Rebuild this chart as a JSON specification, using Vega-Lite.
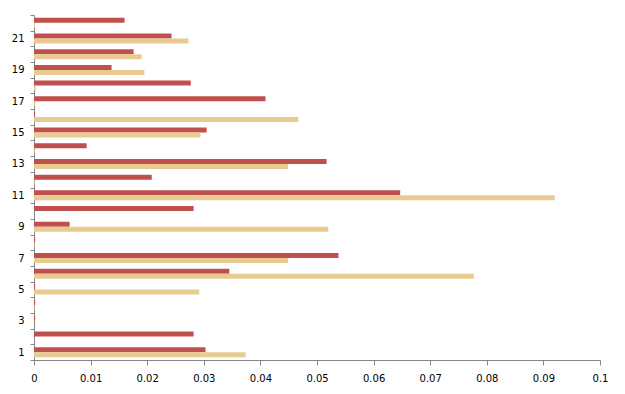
{
  "$schema": "https://vega.github.io/schema/vega-lite/v6.json",
  "width": 566,
  "height": 345,
  "autosize": {"type": "none"},
  "padding": {"left": 34, "top": 15, "right": 25, "bottom": 34},
  "background": "white",
  "data": {
    "values": [
      {"cat": 1, "series": "Series2", "value": 0.0303},
      {"cat": 1, "series": "Series1", "value": 0.0374},
      {"cat": 2, "series": "Series2", "value": 0.0282},
      {"cat": 2, "series": "Series1", "value": 0},
      {"cat": 3, "series": "Series2", "value": 0.0002},
      {"cat": 3, "series": "Series1", "value": 0},
      {"cat": 4, "series": "Series2", "value": 0.0002},
      {"cat": 4, "series": "Series1", "value": 0.0001},
      {"cat": 5, "series": "Series2", "value": 0.0002},
      {"cat": 5, "series": "Series1", "value": 0.0292},
      {"cat": 6, "series": "Series2", "value": 0.0345},
      {"cat": 6, "series": "Series1", "value": 0.0777},
      {"cat": 7, "series": "Series2", "value": 0.0538},
      {"cat": 7, "series": "Series1", "value": 0.0449},
      {"cat": 8, "series": "Series2", "value": 0.0002},
      {"cat": 8, "series": "Series1", "value": 0.0001},
      {"cat": 9, "series": "Series2", "value": 0.0063},
      {"cat": 9, "series": "Series1", "value": 0.052},
      {"cat": 10, "series": "Series2", "value": 0.0282},
      {"cat": 10, "series": "Series1", "value": 0},
      {"cat": 11, "series": "Series2", "value": 0.0647},
      {"cat": 11, "series": "Series1", "value": 0.092},
      {"cat": 12, "series": "Series2", "value": 0.0208},
      {"cat": 12, "series": "Series1", "value": 0.0001},
      {"cat": 13, "series": "Series2", "value": 0.0517},
      {"cat": 13, "series": "Series1", "value": 0.0449},
      {"cat": 14, "series": "Series2", "value": 0.0093},
      {"cat": 14, "series": "Series1", "value": 0.0001},
      {"cat": 15, "series": "Series2", "value": 0.0305},
      {"cat": 15, "series": "Series1", "value": 0.0294},
      {"cat": 16, "series": "Series2", "value": 0.0002},
      {"cat": 16, "series": "Series1", "value": 0.0467},
      {"cat": 17, "series": "Series2", "value": 0.0409},
      {"cat": 17, "series": "Series1", "value": 0.0002},
      {"cat": 18, "series": "Series2", "value": 0.0277},
      {"cat": 18, "series": "Series1", "value": 0.0003},
      {"cat": 19, "series": "Series2", "value": 0.0137},
      {"cat": 19, "series": "Series1", "value": 0.0195},
      {"cat": 20, "series": "Series2", "value": 0.0176},
      {"cat": 20, "series": "Series1", "value": 0.019},
      {"cat": 21, "series": "Series2", "value": 0.0243},
      {"cat": 21, "series": "Series1", "value": 0.0273},
      {"cat": 22, "series": "Series2", "value": 0.016},
      {"cat": 22, "series": "Series1", "value": 0.0002}
    ]
  },
  "mark": {"type": "bar"},
  "encoding": {
    "y": {
      "field": "cat",
      "type": "ordinal",
      "sort": "descending",
      "scale": {"paddingInner": 0, "paddingOuter": 0},
      "axis": {
        "title": null,
        "tickBand": "extent",
        "labelExpr": "datum.value % 2 == 1 ? datum.label : ''",
        "tickSize": 4,
        "labelPadding": 6,
        "labelAngle": 0
      }
    },
    "yOffset": {
      "field": "series",
      "type": "nominal",
      "scale": {"domain": ["Series2", "Series1"], "paddingOuter": 0.57, "paddingInner": 0}
    },
    "x": {
      "field": "value",
      "type": "quantitative",
      "scale": {"domain": [0, 0.1], "nice": false},
      "axis": {
        "title": null,
        "values": [0, 0.01, 0.02, 0.03, 0.04, 0.05, 0.06, 0.07, 0.08, 0.09, 0.1],
        "format": "~g",
        "grid": false,
        "tickSize": 5,
        "labelPadding": 8,
        "labelFlush": false
      }
    },
    "color": {
      "field": "series",
      "type": "nominal",
      "scale": {"domain": ["Series2", "Series1"], "range": ["#C0504D", "#E8CB90"]},
      "legend": null
    }
  },
  "config": {
    "view": {"stroke": null},
    "axis": {
      "domainColor": "#868686",
      "tickColor": "#868686",
      "labelFont": "DejaVu Sans",
      "labelFontSize": 10,
      "labelColor": "#000000",
      "domainWidth": 1,
      "tickWidth": 1
    }
  }
}
